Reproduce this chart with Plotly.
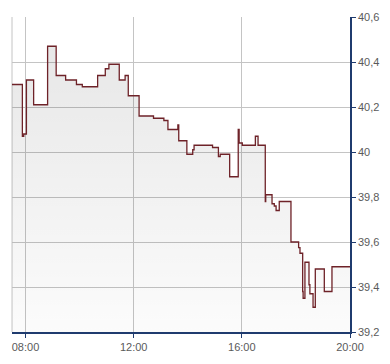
import plotly.graph_objects as go

day = "2024-01-15 "
times = ["07:30", "07:53", "07:56", "08:02", "08:18", "08:49", "09:08", "09:29", "09:53",
         "10:06", "10:40", "10:57", "11:05", "11:28", "11:41", "11:48", "12:12", "12:44",
         "13:07", "13:16", "13:38", "13:40", "13:58", "14:11", "14:14", "14:55", "15:08",
         "15:12", "15:33", "15:52", "15:54", "16:01", "16:30", "16:36", "16:52", "16:53",
         "17:07", "17:12", "17:16", "17:23", "17:49", "18:06", "18:09", "18:15", "18:16",
         "18:20", "18:29", "18:31", "18:38", "18:43", "19:03", "19:20", "20:00"]
prices = [40.30, 40.07, 40.08, 40.32, 40.21, 40.47, 40.34, 40.32, 40.30,
          40.29, 40.34, 40.37, 40.39, 40.32, 40.34, 40.25, 40.16, 40.15,
          40.14, 40.10, 40.12, 40.05, 39.99, 40.01, 40.03, 40.02, 39.98,
          39.99, 39.89, 40.10, 40.04, 40.03, 40.07, 40.03, 39.78, 39.81,
          39.77, 39.76, 39.74, 39.78, 39.60, 39.575, 39.55, 39.38, 39.35,
          39.51, 39.41, 39.37, 39.31, 39.48, 39.38, 39.49, 39.49]
x_ticks = ["08:00", "12:00", "16:00", "20:00"]
y_ticks = [39.2, 39.4, 39.6, 39.8, 40.0, 40.2, 40.4, 40.6]

xs = [day + t for t in times]
navy = "#1f3b6e"
grid = "#c4c4c4"
font = dict(family="Liberation Sans, Arial, sans-serif", size=11, color="#5a5a5a")

fig = go.Figure()
fig.add_trace(go.Scatter(
    x=xs, y=prices, mode="lines", line=dict(color="#6e2228", width=1.3, shape="hv"),
    fill="tozeroy",
    fillgradient=dict(type="vertical", start=39.2, stop=40.5,
                      colorscale=[[0, "rgba(0,0,0,0.01)"], [1, "rgba(0,0,0,0.095)"]]),
    hoverinfo="skip", showlegend=False,
))

fig.add_shape(type="line", xref="paper", yref="paper", x0=0, x1=0, y0=0, y1=1,
              line=dict(color=grid, width=1), layer="below")

fig.update_layout(
    width=390, height=364,
    margin=dict(l=12, r=38, t=11, b=23),
    paper_bgcolor="white", plot_bgcolor="white",
    separators=", ",
    font=font,
    xaxis=dict(
        type="date",
        range=[day + "07:30", day + "20:00"],
        tickvals=[day + t for t in x_ticks], ticktext=x_ticks,
        showgrid=True, gridcolor=grid, gridwidth=1,
        showline=True, linecolor=navy, linewidth=1.5,
        ticks="outside", ticklen=4, tickcolor=navy, tickwidth=1,
        zeroline=False, tickfont=font,
    ),
    yaxis=dict(
        side="right",
        range=[39.2, 40.6],
        tickvals=y_ticks, ticktext=[("%g" % v).replace(".", ",") for v in y_ticks],
        showgrid=True, gridcolor=grid, gridwidth=1,
        showline=True, linecolor=navy, linewidth=1.5,
        ticks="outside", ticklen=4, tickcolor=navy, tickwidth=1,
        zeroline=False, tickfont=font,
    ),
)

fig.write_html("out.html")
